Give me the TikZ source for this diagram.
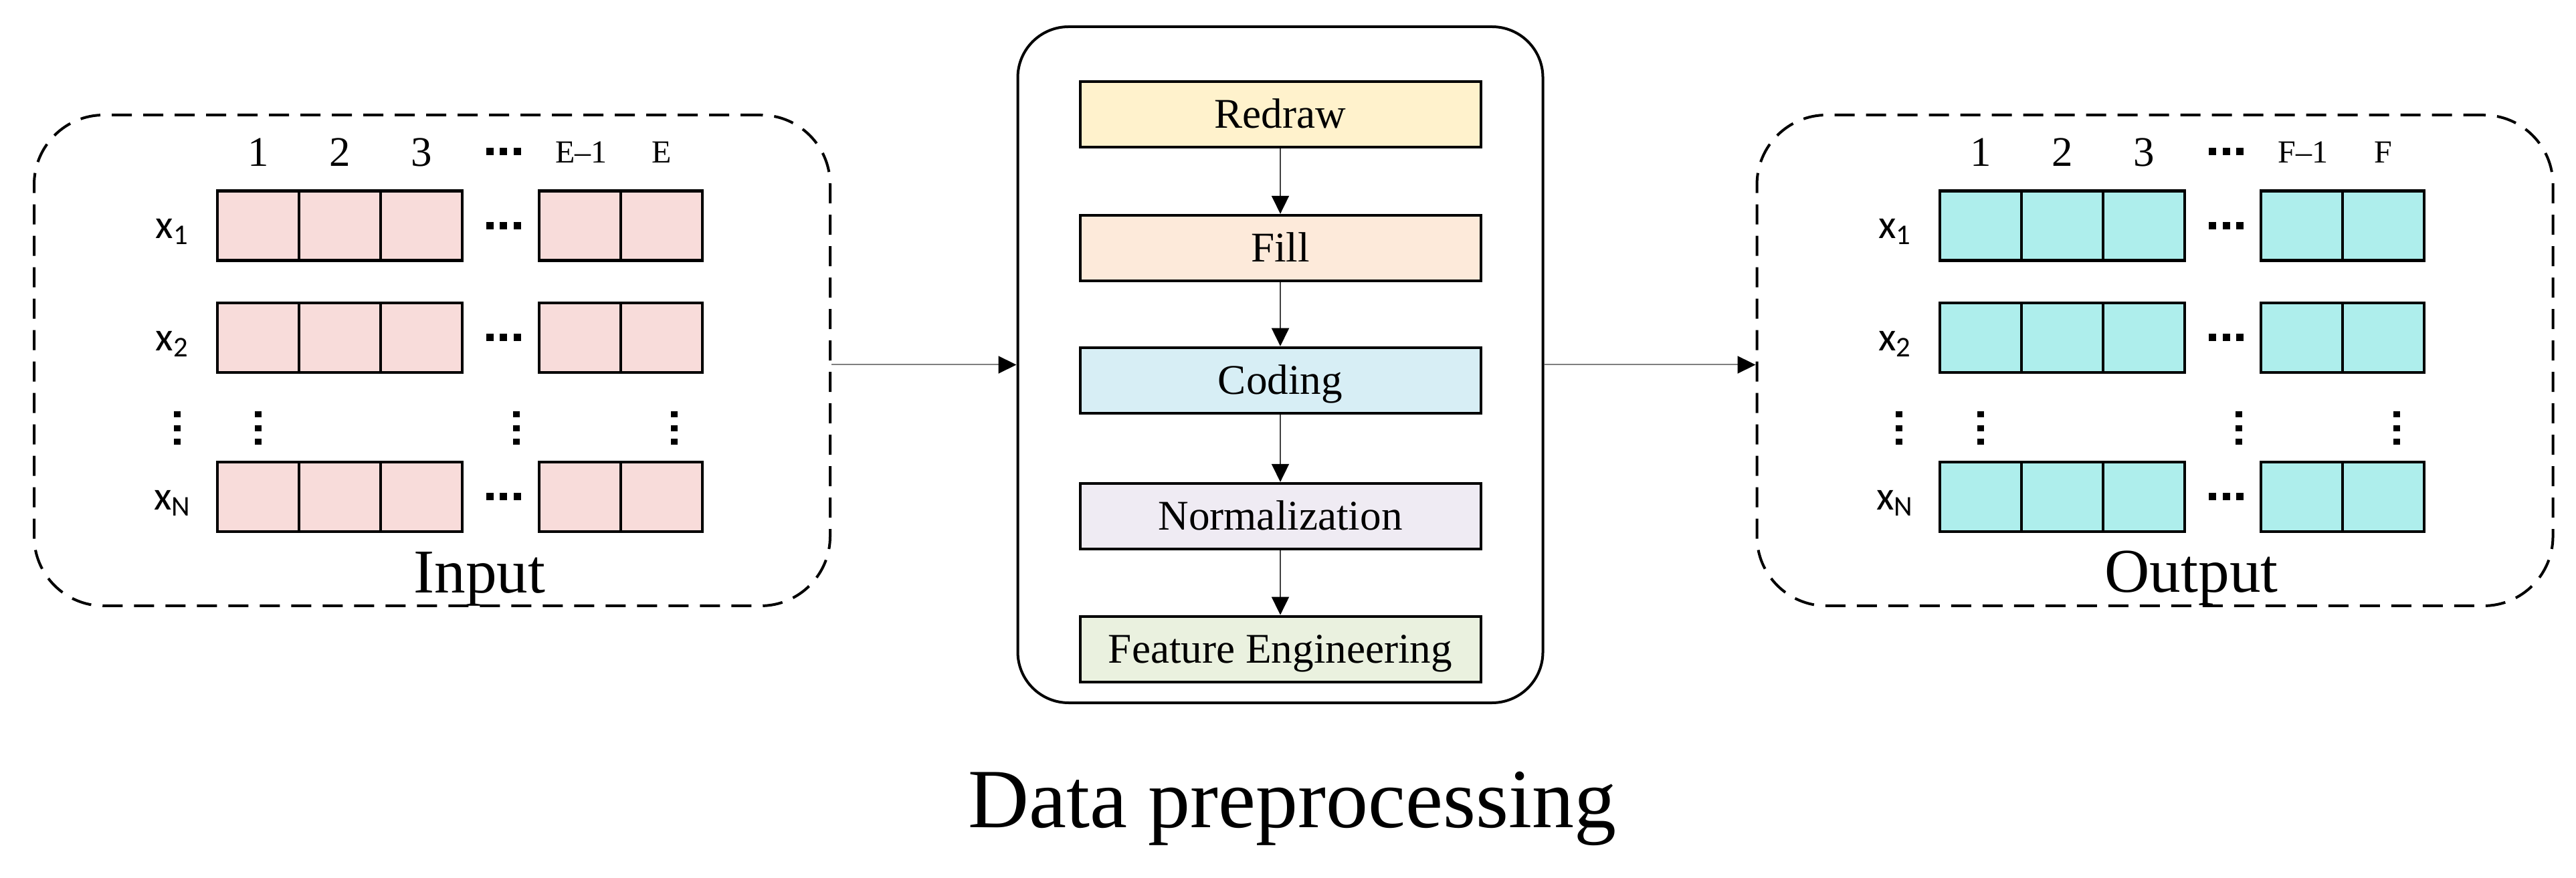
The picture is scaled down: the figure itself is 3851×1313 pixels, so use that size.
\documentclass[tikz,border=0pt]{standalone}
\usepackage{fontspec}
\setmainfont{Liberation Serif}
\newfontfamily\calfont{Carlito}
\usetikzlibrary{arrows.meta}
\definecolor{pinkc}{HTML}{F8DCDA}
\definecolor{tealc}{HTML}{AEEEEC}
\definecolor{redrawc}{HTML}{FFF2CC}
\definecolor{fillc}{HTML}{FDEADA}
\definecolor{codingc}{HTML}{D7EEF5}
\definecolor{normc}{HTML}{EFEBF3}
\definecolor{featc}{HTML}{EAF1DF}
\definecolor{linegray}{HTML}{808080}
\definecolor{darkline}{HTML}{404040}
\begin{document}
\begin{tikzpicture}[x=0.25pt,y=-0.25pt,
  cellbase/.style={draw, line width=1.1pt, minimum width=30.5pt, minimum height=26pt, inner sep=0pt},
  cellin/.style={cellbase, fill=pinkc},
  cellout/.style={cellbase, fill=tealc},
  dashbox/.style={draw, line width=1pt, dash pattern=on 7.5pt off 4.25pt, rounded corners=26pt,
    minimum width=297.5pt, minimum height=183.5pt, inner sep=0pt},
  procbox/.style={draw, line width=1pt, rounded corners=19pt, minimum width=196.25pt,
    minimum height=252.75pt, inner sep=0pt},
  stepbox/.style={draw, line width=1pt, minimum width=149.75pt, minimum height=24.5pt,
    inner sep=0pt, font=\fontsize{15.8pt}{18pt}\selectfont, text height=10.4pt, text depth=0pt},
  collab/.style={anchor=base, inner sep=0pt, font=\fontsize{15.75pt}{18pt}\selectfont},
  elab/.style={anchor=base, inner sep=0pt, font=\fontsize{12pt}{14pt}\selectfont},
  rowlab/.style={anchor=base, inner sep=0pt, font=\calfont\fontsize{15.25pt}{18pt}\selectfont},
  biglab/.style={anchor=base, inner sep=0pt, font=\fontsize{23.3pt}{28pt}\selectfont},
  title/.style={anchor=base, inner sep=0pt, font=\fontsize{31.5pt}{36pt}\selectfont},
  conn/.style={draw=linegray, line width=0.5pt, -{Triangle[length=6.75pt,width=6.5pt,color=black,fill=black]}},
  vconn/.style={draw=darkline, line width=0.5pt, -{Triangle[length=6.75pt,width=6.5pt,color=black,fill=black]}},
]
\useasboundingbox (0,0) rectangle (3851,1313);

% containers
\node[dashbox] (inbox) at (646,539) {};
\node[dashbox] (outbox) at (3221.5,539) {};
\node[procbox] (proc) at (1914,545.5) {};

% input cells
\foreach \r/\y in {1/337.5, 2/505, N/743} {
  \foreach \c/\x in {1/386, 2/508, 3/630, 4/867, 5/989} {
    \node[cellin] (in-\r-\c) at (\x,\y) {};
  }
  \foreach \c/\x in {1/2961, 2/3083, 3/3205, 4/3441, 5/3563} {
    \node[cellout] (out-\r-\c) at (\x,\y) {};
  }
}

% column labels (input)
\node[collab] (inl1) at (386,249) {1};
\node[collab] (inl2) at (508,249) {2};
\node[collab] (inl3) at (630,249) {3};
\node[elab] (inl4) at (869,244) {E–1};
\node[elab] (inl5) at (989,244) {E};
% column labels (output)
\node[collab] (outl1) at (2961,249) {1};
\node[collab] (outl2) at (3083,249) {2};
\node[collab] (outl3) at (3205,249) {3};
\node[elab] (outl4) at (3443,244) {F–1};
\node[elab] (outl5) at (3563,244) {F};

% row labels
\node[rowlab] (inx1) at (258,357) {x\textsubscript{1}};
\node[rowlab] (inx2) at (258,524.5) {x\textsubscript{2}};
\node[rowlab] (inxN) at (258,762.5) {x\textsubscript{N}};
\node[rowlab] (outx1) at (2833,357) {x\textsubscript{1}};
\node[rowlab] (outx2) at (2833,524.5) {x\textsubscript{2}};
\node[rowlab] (outxN) at (2833,762.5) {x\textsubscript{N}};

% horizontal dots
\foreach \cx in {752.5, 3328} {
  \foreach \y in {227, 337.5, 505, 743} {
    \foreach \dx in {-20.5, 0, 20.5} {
      \fill (\cx+\dx-5.5,\y-5.5) rectangle (\cx+\dx+5.5,\y+5.5);
    }
  }
}
% vertical dots
\foreach \x in {264.5, 386, 772, 1008, 2839, 2961, 3347, 3583} {
  \foreach \y in {619.5, 640.5, 661} {
    \fill (\x-5,\y-4.5) rectangle (\x+5,\y+4.5);
  }
}

% box titles
\node[biglab] (inlab) at (717,886.5) {Input};
\node[biglab] (outlab) at (3276,886) {Output};
\node[title] (dplab) at (1932,1237) {Data preprocessing};

% steps
\node[stepbox, fill=redrawc] (s1) at (1914,171) {Redraw};
\node[stepbox, fill=fillc] (s2) at (1914,370.8) {Fill};
\node[stepbox, fill=codingc] (s3) at (1914,568.7) {Coding};
\node[stepbox, fill=normc] (s4) at (1914,771.8) {Normalization};
\node[stepbox, fill=featc] (s5) at (1914,970.6) {Feature Engineering};

\draw[vconn] (s1) -- (s2);
\draw[vconn] (s2) -- (s3);
\draw[vconn] (s3) -- (s4);
\draw[vconn] (s4) -- (s5);

\draw[conn] (inbox.east |- proc.west) -- (proc.west);
\draw[conn] (proc.east) -- (outbox.west |- proc.east);
\end{tikzpicture}
\end{document}
